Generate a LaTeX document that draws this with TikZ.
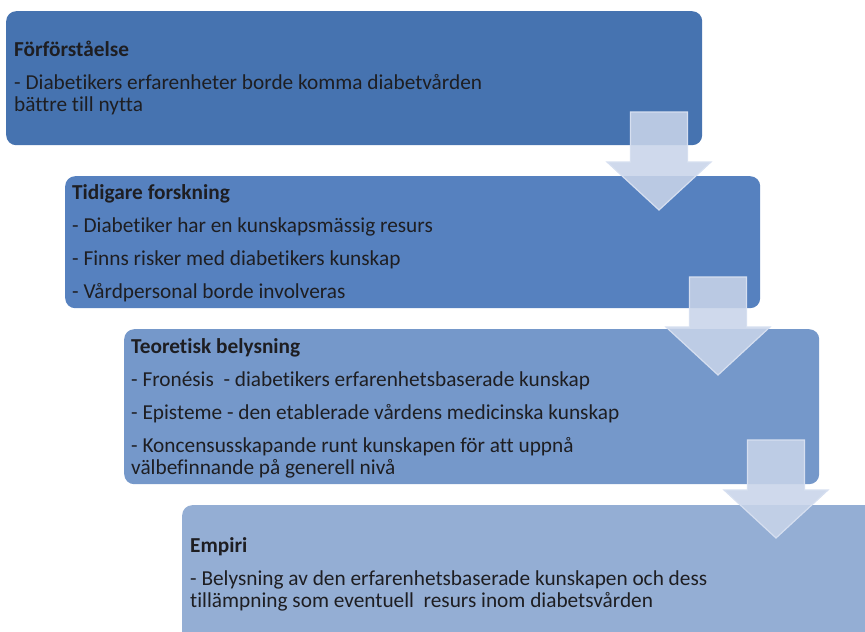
\documentclass[tikz,border=0pt]{standalone}
\usepackage{fontspec}
\setmainfont[Ligatures={NoCommon}]{Carlito}
\definecolor{stageA}{RGB}{70,115,176}
\definecolor{stageB}{RGB}{86,129,191}
\definecolor{stageC}{RGB}{117,152,202}
\definecolor{stageD}{RGB}{148,174,212}
\definecolor{arrowfill}{RGB}{200,212,233}
\definecolor{arrowline}{RGB}{214,223,240}
\definecolor{textdark}{RGB}{30,30,34}
\tikzset{
  stage/.style={rounded corners=10pt, anchor=north west, inner sep=0pt},
  stagetext/.style={anchor=north west, inner sep=0pt, align=left, text=textdark,
    font=\fontsize{21.3}{22.5}\selectfont},
  downarrow/.style={fill=arrowfill, fill opacity=0.88, draw=arrowline, line width=1.2pt}
}
\begin{document}
\begin{tikzpicture}[x=1pt,y=-1pt]
  \useasboundingbox (0,0) rectangle (865,632);
  \clip (0,0) rectangle (865,632);
  % steps
  \node[stage, fill=stageA, minimum width=696pt, minimum height=134pt] (forf) at (6,11) {};
  \node[stage, fill=stageB, minimum width=695pt, minimum height=132pt] (tidig) at (65,176) {};
  \node[stage, fill=stageC, minimum width=695pt, minimum height=155pt] (teori) at (124,329) {};
  \node[stage, fill=stageD, minimum width=720pt, minimum height=150pt] (empiri) at (182,505) {};
  % texts
  \node[stagetext] (forftxt) at (14,39) {\rule{0pt}{17pt}\textbf{Förförståelse}\\[10.5pt]
    - Diabetikers erfarenheter borde komma diabetvården\\
    bättre till nytta};
  \node[stagetext] (tidigtxt) at (72,182) {\rule{0pt}{17pt}\textbf{Tidigare forskning}\\[10.5pt]
    - Diabetiker har en kunskapsmässig resurs\\[10.5pt]
    - Finns risker med diabetikers kunskap\\[10.5pt]
    - Vårdpersonal borde involveras};
  \node[stagetext] (teoritxt) at (131,336) {\rule{0pt}{17pt}\textbf{Teoretisk belysning}\\[10.5pt]
    - Fronésis\ \ - diabetikers erfarenhetsbaserade kunskap\\[10.5pt]
    - Episteme - den etablerade vårdens medicinska kunskap\\[10.5pt]
    - Koncensusskapande runt kunskapen för att uppnå\\
    välbefinnande på generell nivå};
  \node[stagetext] (empiritxt) at (190,535) {\rule{0pt}{17pt}\textbf{Empiri}\\[10.5pt]
    - Belysning av den erfarenhetsbaserade kunskapen och dess\\
    tillämpning som eventuell\ \ resurs inom diabetsvården};
  % arrows between steps
  \foreach \cx/\ty in {659/112, 718/277, 776/440}
    \draw[downarrow] (\cx-28.5,\ty) -- (\cx+28.5,\ty) -- (\cx+28.5,\ty+50) -- (\cx+52,\ty+50)
      -- (\cx,\ty+98) -- (\cx-52,\ty+50) -- (\cx-28.5,\ty+50) -- cycle;
\end{tikzpicture}
\end{document}
